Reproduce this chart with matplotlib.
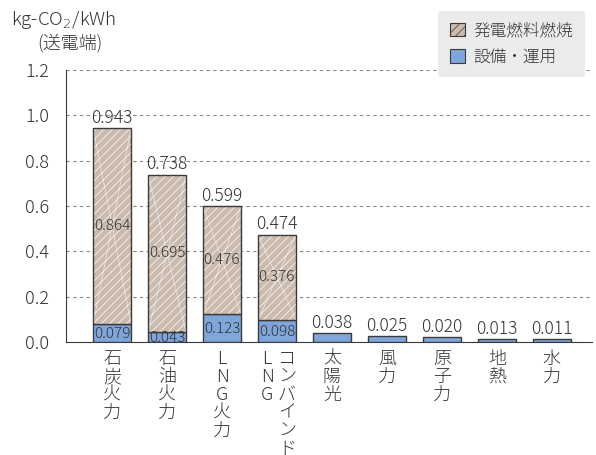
import matplotlib
matplotlib.use("Agg")
import matplotlib.pyplot as plt
from matplotlib.patches import Patch
import numpy as np

plt.rcParams['font.family'] = ['Noto Sans CJK JP', 'DejaVu Sans']
plt.rcParams['font.weight'] = 'light'
plt.rcParams['hatch.linewidth'] = 0.5

categories = ['石炭火力', '石油火力', 'LNG火力', 'コンバインド\nLNG', '太陽光', '風力', '原子力', '地熱', '水力']
fuel = [0.864, 0.695, 0.476, 0.376, 0, 0, 0, 0, 0]
facility = [0.079, 0.043, 0.123, 0.098, 0.038, 0.025, 0.020, 0.013, 0.011]
totals = ['0.943', '0.738', '0.599', '0.474', '0.038', '0.025', '0.020', '0.013', '0.011']
yticks = [0.0, 0.2, 0.4, 0.6, 0.8, 1.0, 1.2]

fuel_color = '#cbbaae'
blue = '#7fa6db'
edge = '#3a3a3a'
text_col = '#333333'

fig = plt.figure(figsize=(5.96, 4.55), dpi=100)
ax = fig.add_axes([0.1107, 0.2484, 0.8823, 0.5978])

x = np.arange(len(categories))
w = 0.69
fuel = np.array(fuel)
facility = np.array(facility)

ax.bar(x, facility, w, color=blue, edgecolor=edge, linewidth=1.0, zorder=3)
ax.bar(x[fuel > 0], fuel[fuel > 0], w, bottom=facility[fuel > 0], color=fuel_color,
       edgecolor='white', hatch='////', linewidth=0, zorder=3)
ax.bar(x[fuel > 0], fuel[fuel > 0], w, bottom=facility[fuel > 0], color='none',
       edgecolor=edge, linewidth=1.0, zorder=4)

# big X across each fuel segment
for xi, f, b in zip(x, fuel, facility):
    if f > 0:
        ax.plot([xi - w / 2, xi + w / 2], [b, b + f], color='white', lw=0.5, alpha=0.7, zorder=3.5)
        ax.plot([xi - w / 2, xi + w / 2], [b + f, b], color='white', lw=0.5, alpha=0.7, zorder=3.5)

# labels
for xi, f, b, t in zip(x, fuel, facility, totals):
    ax.text(xi, b + f + 0.006, t, ha='center', va='bottom', fontsize=12.5, color=text_col, zorder=5)
    if f > 0:
        ax.text(xi, b + f / 2, f'{f:.3f}', ha='center', va='center', fontsize=11, color=text_col, zorder=5)
        ax.text(xi, b / 2 - 0.004, f'{b:.3f}', ha='center', va='center', fontsize=11, color=text_col, zorder=5)

ax.set_xlim(-0.84, 8.73)
ax.set_ylim(0, 1.2)
ax.set_yticks(yticks)
ax.set_yticklabels([f'{v:.1f}' for v in yticks], fontsize=13, color=text_col)
ax.yaxis.grid(True, linestyle=(0, (3, 3)), color='#888888', linewidth=0.8, zorder=0)
ax.set_axisbelow(True)
for s in ['top', 'right']:
    ax.spines[s].set_visible(False)
ax.spines['left'].set_color(edge)
ax.spines['bottom'].set_color(edge)
ax.tick_params(axis='y', length=0, pad=12)
ax.tick_params(axis='x', length=0)
ax.set_xticks(x)
ax.set_xticklabels([])

# vertical category labels
for xi, cat in zip(x, categories):
    cols = cat.split('\n')
    n = len(cols)
    for k, col in enumerate(cols):
        off = (n - 1) / 2 * 0.36 - k * 0.36
        ax.text(xi + off, -0.035, '\n'.join(col), ha='center', va='top', fontsize=13,
                color=text_col, linespacing=1.0, transform=ax.transData, clip_on=False)

fig.text(0.018, 0.955, 'kg-CO$_2$/kWh', fontsize=13.5, color=text_col, ha='left', va='center')
fig.text(0.062, 0.905, '(送電端)', fontsize=13, color=text_col, ha='left', va='center')

handles = [Patch(facecolor=fuel_color, edgecolor=edge, hatch='////', linewidth=0.8),
           Patch(facecolor=blue, edgecolor=edge, linewidth=0.8)]
leg = fig.legend(handles, ['発電燃料燃焼', '設備・運用'], loc='upper right',
                 bbox_to_anchor=(0.995, 0.995), fontsize=12, frameon=True, fancybox=True,
                 facecolor='#ebebeb', edgecolor='none', framealpha=1,
                 handlelength=0.9, handleheight=0.9, handletextpad=0.5, borderpad=0.7,
                 labelspacing=0.55, labelcolor=text_col)

fig.savefig('out.png', dpi=100)
